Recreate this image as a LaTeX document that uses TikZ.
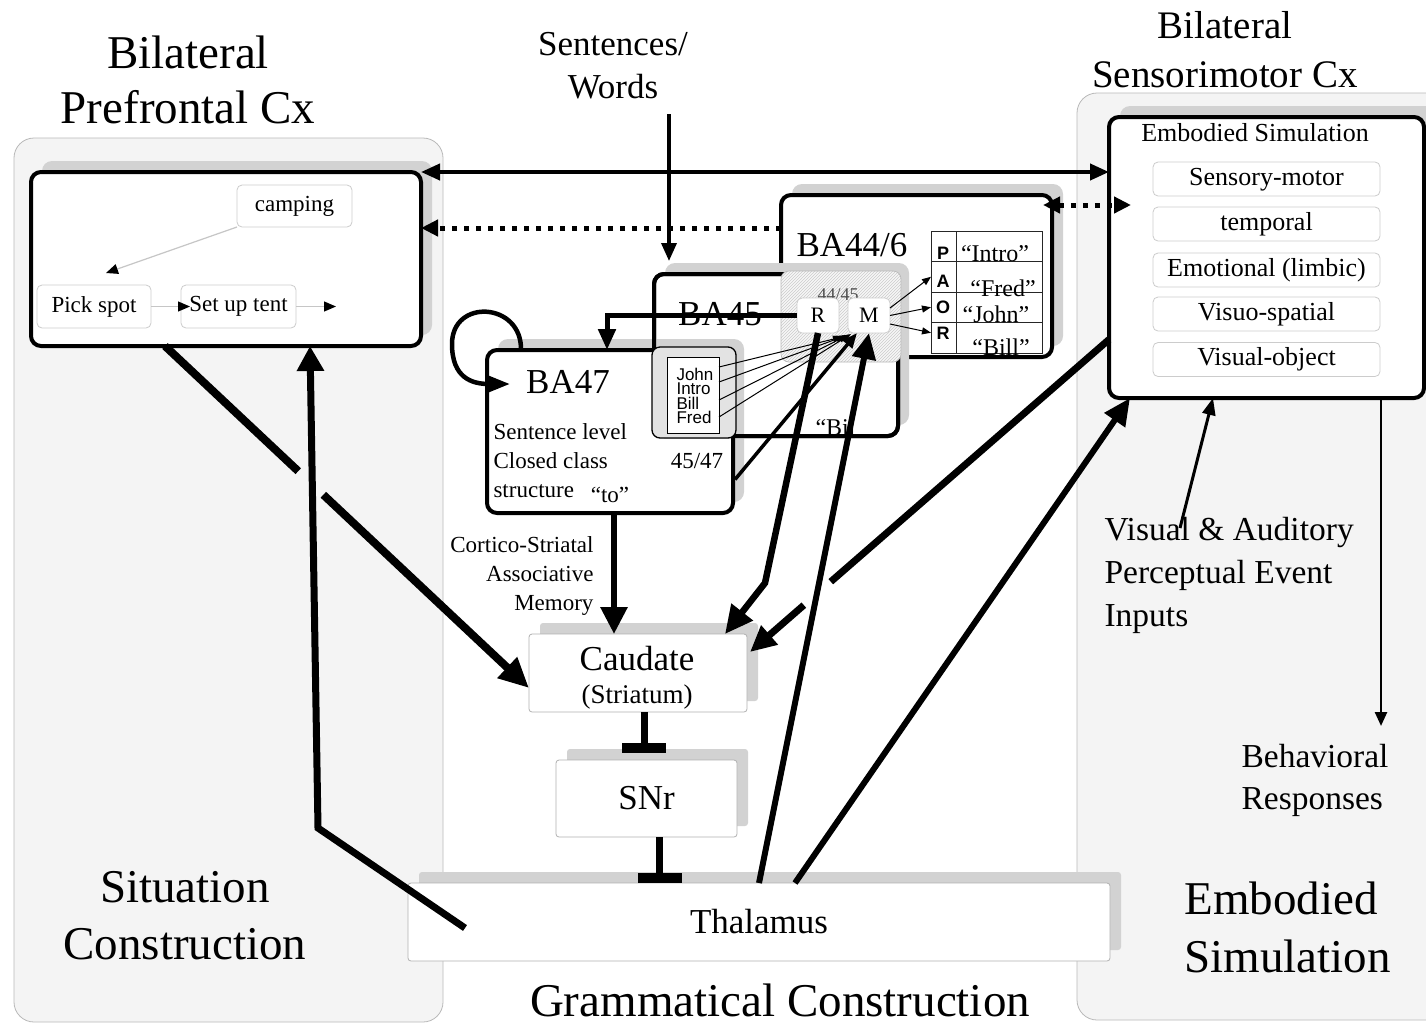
\documentclass[tikz,border=0pt]{standalone}
\usepackage{fontspec}
\setmainfont{Liberation Serif}
\newfontfamily\labelsans{Liberation Sans}
\usetikzlibrary{arrows.meta,shadows,patterns,calc}
\newcommand{\fsz}[2]{\fontsize{#1pt}{#2pt}\selectfont}

\begin{document}
\begin{tikzpicture}[x=1pt,y=-1pt,
  sz/.style 2 args={minimum width=#1pt,minimum height=#2pt,inner sep=0pt,outer sep=0pt},
  panel/.style={draw=gray!55,line width=0.8pt,fill=gray!9,rounded corners=20pt},
  castshadow/.style={drop shadow={shadow xshift=11pt,shadow yshift=11pt,fill=gray!35,opacity=1}},
  region/.style={draw=black,line width=4pt,fill=white,rounded corners=10pt,castshadow},
  nucleus/.style={draw=gray!60,line width=0.8pt,fill=white,rounded corners=3pt,castshadow},
  item/.style={draw=gray!40,line width=0.8pt,fill=white,rounded corners=5pt},
  simitem/.style={item,minimum width=227pt,minimum height=34pt,inner sep=0pt,outer sep=0pt,
                  font=\fsz{26}{30},text height=17pt,text depth=5pt},
  slot/.style={draw=black!85,line width=0.8pt,fill=white},
  bigtext/.style={font=\fsz{47}{55},align=center},
  areatext/.style={font=\fsz{35}{40}},
  smalltext/.style={font=\fsz{23}{29}},
  sparse/.style={line width=5pt,dash pattern=on 5pt off 7pt},
  wire/.style={line width=1pt,-{Triangle[length=9pt,width=7pt]}},
  seqflow/.style={draw=gray!45,line width=1.2pt,-{Triangle[length=12pt,width=10pt,color=black]}},
  inhibit/.style={line width=7pt,-{Rectangle[length=10pt,width=44pt]}},
]
\useasboundingbox (0,0) rectangle (1426,1026);
\fill[white] (0,0) rectangle (1426,1026);

% cortical panels
\draw[panel] (14,138) rectangle (443,1022);
\draw[panel] (1077,93) rectangle (1460,1020);

% headings
\node[bigtext] (hPFC) at (188,80) {Bilateral\\Prefrontal Cx};
\node[font=\fsz{35}{43},align=center] (hSent) at (613,66) {Sentences/\\Words};
\node[font=\fsz{39}{49},align=center] (hSM) at (1225,50) {Bilateral\\Sensorimotor Cx};
\node[bigtext,font=\fsz{47}{57}] (hSit) at (185,916) {Situation\\Construction};
\node[font=\fsz{47}{58},align=left,anchor=west] (hEmb) at (1181,927) {Embodied\\Simulation};
\node[font=\fsz{47}{55}] (hGram) at (780,1000) {Grammatical Construction};
\node[font=\fsz{33.5}{43},align=left,anchor=west] (hVis) at (1101,575) {Visual \& Auditory\\Perceptual Event\\Inputs};
\node[font=\fsz{33.5}{42},align=left,anchor=west] (hBeh) at (1238,780) {Behavioral\\Responses};

% situation model in prefrontal cortex
\node[region,sz={390}{174}] (pfc) at (226,259) {};
\node[item,sz={115}{42},font=\fsz{23}{28}] (camping) at (294.5,206) {camping};
\node[item,sz={114}{43},font=\fsz{23}{28}] (pick) at (94,306.5) {Pick spot};
\node[item,sz={115}{43},font=\fsz{23}{28}] (tent) at (238.5,306.5) {Set up tent};
\coordinate (pickIn) at (106,273);
\coordinate (seqEnd) at (336,306.5);
\draw[seqflow] (camping.south west) -- (pickIn);
\draw[seqflow] (pick.east) -- ([xshift=9pt]tent.west);
\draw[seqflow] (tent.east) -- (seqEnd);

% inferior frontal areas
\node[region,sz={271}{162}] (ba44) at (916.5,276) {};
\node[region,sz={244}{162}] (ba45) at (776,355) {};
\node[region,sz={246}{163}] (ba47) at (610,431.5) {};
\draw[line width=4pt,rounded corners=10pt] (ba45.south west) rectangle (ba45.north east);

\node[sz={120}{91},draw=gray!55,line width=0.7pt,rounded corners=8pt,
      preaction={fill=gray!6},pattern=north east lines,pattern color=gray!40] (zone) at (841,316.5) {};
\node[font=\fsz{18}{20},text=gray!60!black] (zoneT) at (838,295) {44/45};
\node[item,sz={42}{35},font=\fsz{22}{26}] (R) at (818,315.5) {R};
\node[item,sz={42}{35},font=\fsz{22}{26}] (M) at (869,315.5) {M};

% role table
\node[slot,sz={25}{30.5}] (cP) at (943.5,246.25) {};
\node[slot,sz={25}{30.5}] (cA) at (943.5,276.75) {};
\node[slot,sz={25}{30.5}] (cO) at (943.5,307.25) {};
\node[slot,sz={25}{30.5}] (cR) at (943.5,337.75) {};
\node[slot,sz={86}{30.5}] (vP) at (999,246.25) {};
\node[slot,sz={86}{30.5}] (vA) at (999,276.75) {};
\node[slot,sz={86}{30.5}] (vO) at (999,307.25) {};
\node[slot,sz={86}{30.5}] (vR) at (999,337.75) {};
\node[font=\labelsans\bfseries\fsz{18}{20}] (lP) at (943,253) {P};
\node[font=\labelsans\bfseries\fsz{18}{20}] (lA) at (943,281) {A};
\node[font=\labelsans\bfseries\fsz{18}{20}] (lO) at (943,307) {O};
\node[font=\labelsans\bfseries\fsz{18}{20}] (lR) at (943,333) {R};
\node[font=\fsz{24}{28}] (tP) at (995,254) {“Intro”};
\node[font=\fsz{24}{28}] (tA) at (1003,288) {“Fred”};
\node[font=\fsz{24}{28}] (tO) at (996,314) {“John”};
\node[font=\fsz{24}{28}] (tR) at (1001,347) {“Bill”};

% area labels
\node[areatext] (ba44T) at (852,245) {BA44/6};
\node[areatext] (ba45T) at (720,314) {BA45};
\node[areatext] (ba47T) at (568,382) {BA47};
\node[smalltext,align=left,anchor=west] (ba47L) at (490,461) {Sentence level\\Closed class\\structure};
\node[smalltext] (toT) at (610,495) {“to”};
\node[smalltext] (ba4547) at (697,461) {45/47};
\node[font=\fsz{24}{28},anchor=base west] (ba45Bill) at (812,435) {“Bil};

% open-class word store
\node[sz={84}{91},draw=black,line width=1.3pt,rounded corners=8pt,fill=gray!22] (wordsO) at (694,392.5) {};
\node[sz={52}{76},draw=black,line width=0.8pt,fill=white] (words) at (693,395) {};
\node[font=\labelsans\fsz{17}{14.5},align=left,anchor=west] (wordsT) at (673,396) {John\\Intro\\Bill\\Fred};

% basal ganglia and thalamus
\node[nucleus,sz={218}{78}] (caudate) at (638,673) {};
\node[areatext] (caudateT) at (637,659) {Caudate};
\node[font=\fsz{27}{32}] (caudateS) at (637,697) {(Striatum)};
\node[smalltext,align=right,anchor=east] (cortico) at (597,576) {Cortico-Striatal\\Associative\\Memory};
\node[nucleus,sz={181}{77},font=\fsz{35}{40}] (snr) at (646.5,798.5) {SNr};
\node[nucleus,sz={702}{78},font=\fsz{35}{40}] (thal) at (759,922) {Thalamus};

% embodied simulation
\node[region,sz={315}{281}] (es) at (1266.5,257.5) {};
\node[font=\fsz{26}{30}] (esT) at (1255,133) {Embodied Simulation};
\node[simitem] (es1) at (1266.5,179) {Sensory-motor};
\node[simitem] (es2) at (1266.5,224) {temporal};
\node[simitem] (es3) at (1266.5,270) {Emotional (limbic)};
\node[simitem] (es4) at (1266.5,314) {Visuo-spatial};
\node[simitem] (es5) at (1266.5,359.5) {Visual-object};

% ---- connections ----
% prefrontal <-> sensorimotor
\draw[line width=4pt,{Triangle[length=19pt,width=16pt]}-{Triangle[length=19pt,width=16pt]}]
  (pfc.north east) -- (pfc.north east -| es.west);
\coordinate (dotA) at ([yshift=48pt]ba44.west);
\draw[sparse,-{Triangle[length=17pt,width=16pt]}] (dotA) -- (dotA -| pfc.east);
\coordinate (dotB) at ([xshift=-9pt,yshift=-10pt]ba44.north east);
\coordinate (dotC) at ([xshift=22pt,yshift=52.5pt]es.west);
\draw[sparse,{Triangle[length=17pt,width=16pt]}-{Triangle[length=17pt,width=16pt]}] (dotB) -- (dotC);

% sentence input
\coordinate (sentIn) at (669,114);
\coordinate (sentTip) at (669,261);
\draw[line width=3.5pt,-{Triangle[length=18pt,width=15pt]}] (sentIn) -- (sentTip);

% R to BA47 and BA47 recurrence
\draw[line width=5pt,-{Triangle[length=21pt,width=17pt]}] (R.west) -| ([xshift=-3pt]ba47.north);
\draw[line width=4.5pt,-{Triangle[length=22pt,width=16pt]}]
  ([xshift=34pt]ba47.north west) .. controls (522,302) and (452,298) .. (452,344)
  .. controls (452,378) and (472,384) .. ([xshift=23pt,yshift=-34pt]ba47.north west);

% word store and BA47 to M, M to roles
\draw[wire] ([yshift=28pt]words.east) -- ([xshift=-6pt,yshift=-4pt]M.south west);
\draw[wire] ([yshift=13pt]words.east) -- ([xshift=-3pt,yshift=-3pt]M.south west);
\draw[wire] ([yshift=-5pt]words.east) -- ([yshift=-2pt]M.south west);
\draw[wire] ([yshift=-22pt]words.east) -- ([xshift=3pt,yshift=-1pt]M.south west);
\draw[line width=3.5pt,-{Triangle[length=15pt,width=12pt]}] ([xshift=2pt,yshift=-48pt]ba47.east) -- ([xshift=9pt]M.south west);
\draw[wire] ([yshift=7.5pt]M.east) -- (cA.west);
\draw[wire] (M.east) -- (cO.west);
\draw[wire] ([yshift=-8.5pt]M.east) -- ([yshift=5pt]cR.west);

% cortico-striatal projections
\coordinate (b47out) at ([xshift=4pt]ba47.south);
\draw[line width=6pt,-{Triangle[length=27pt,width=26pt]}] (b47out) -- (b47out |- caudate.north);

\coordinate (pfcOut) at ([xshift=-61pt]pfc.south);
\coordinate (cauL) at ([yshift=-15pt]caudate.west);
\draw[line width=8pt] (pfcOut) -- ($(pfcOut)!0.366!(cauL)$);
\draw[line width=8pt,-{Triangle[length=30pt,width=27pt]}] ($(pfcOut)!0.435!(cauL)$) -- (cauL);

\coordinate (rBend) at (765,583);
\draw[line width=6.5pt,-{Triangle[length=28pt,width=26pt]}] (R.south) -- (rBend) -- ([xshift=-22pt]caudate.north east);

\coordinate (esL) at ([yshift=-82pt]es.west);
\coordinate (cauR) at ([xshift=3pt,yshift=21pt]caudate.east);
\draw[line width=7pt] (esL) -- ($(esL)!0.775!(cauR)$);
\draw[line width=7pt,-{Triangle[length=26pt,width=24pt]}] ($(esL)!0.85!(cauR)$) -- (cauR);

% inhibitory basal ganglia loop
\coordinate (cauOut) at ([xshift=6pt]caudate.south);
\coordinate (snrIn) at ([yshift=7pt]snr.north);
\draw[inhibit] (cauOut) -- (cauOut |- snrIn);
\coordinate (snrOut) at ([xshift=13pt]snr.south);
\draw[inhibit] (snrOut) -- (snrOut |- thal.north);

% thalamo-cortical projections
\coordinate (thalL) at ([xshift=57pt,yshift=-6pt]thal.west);
\coordinate (pfcBend) at (318,828);
\draw[line width=7pt,-{Triangle[length=25pt,width=26pt]}] (thalL) -- (pfcBend) -- ([xshift=84pt]pfc.south);
\draw[line width=6pt,-{Triangle[length=26pt,width=23pt]}] (thal.north) -- (M.south);
\draw[line width=6pt,-{Triangle[length=27pt,width=24pt]}] ([xshift=36pt]thal.north) -- ([xshift=21pt]es.south west);

% perceptual input and behavioural output
\coordinate (visIn) at (1180,528);
\draw[line width=3pt,-{Triangle[length=17pt,width=13pt]}] (visIn) -- ([xshift=104pt]es.south west);
\coordinate (behOut) at ([xshift=-43pt]es.south east);
\coordinate (behTip) at (1381,726);
\draw[line width=2.5pt,-{Triangle[length=14pt,width=12pt]}] (behOut) -- (behTip);
\end{tikzpicture}
\end{document}
